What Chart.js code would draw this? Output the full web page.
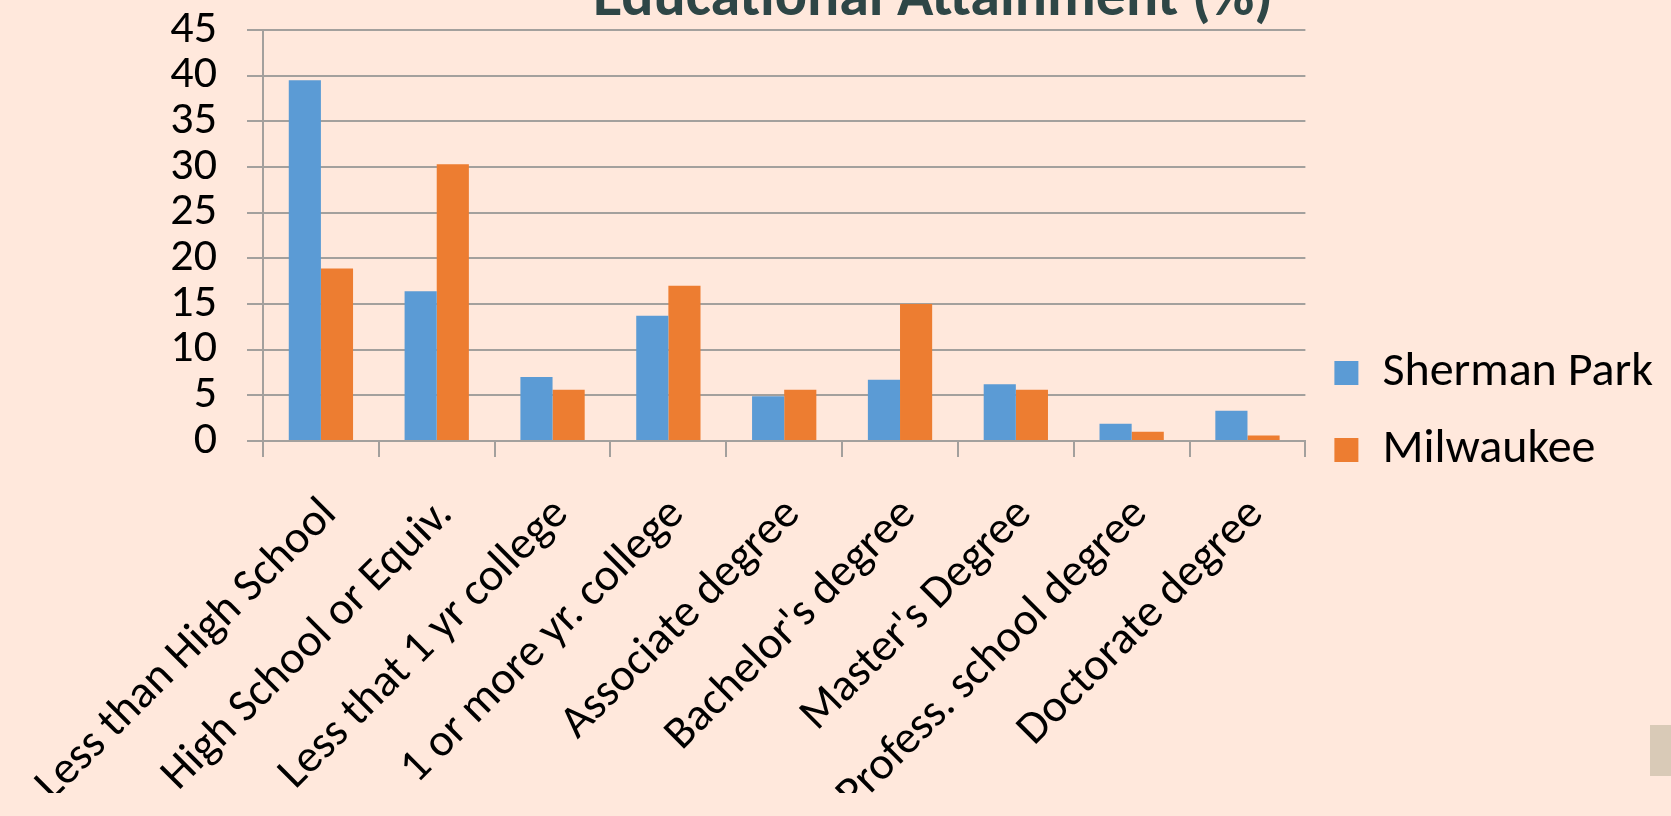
<!DOCTYPE html>
<html>
<head>
<meta charset="utf-8">
<script src="https://cdn.jsdelivr.net/npm/chart.js@4"></script>
<style>
  html, body { margin: 0; padding: 0; background: #FFE8DC; overflow: hidden; }
  body { width: 1671px; height: 816px; position: relative; }
  #title {
    position: absolute; left: 933px; top: -35px; transform: translateX(-50%);
    font: bold 60px Carlito, Lato, sans-serif; line-height: 60px; color: #2E4646;
    white-space: nowrap;
  }
  #chart { position: absolute; left: 0; top: 0; }
  #corner { position: absolute; left: 1650px; top: 725px; width: 21px; height: 51px; background: #D9CAB7; }
</style>
</head>
<body>
<div id="title">Educational Attainment (%)</div>
<canvas id="chart" width="1671" height="816"></canvas>
<div id="corner"></div>
<script>
const categories = [
  'Less than High School', 'High School or Equiv.', 'Less that 1 yr college',
  '1 or more yr. college', 'Associate degree', "Bachelor's degree",
  "Master's Degree", 'Profess. school degree', 'Doctorate degree'
];
const shermanPark = [39.5, 16.4, 7.0, 13.7, 4.9, 6.7, 6.2, 1.9, 3.3];
const milwaukee = [18.9, 30.3, 5.6, 17.0, 5.6, 15.0, 5.6, 1.0, 0.6];
const yTicks = [0, 5, 10, 15, 20, 25, 30, 35, 40, 45];

const font = 'Carlito, Lato, sans-serif';
const gridColor = '#A3A09D';

new Chart(document.getElementById('chart'), {
  type: 'bar',
  data: {
    labels: categories,
    datasets: [
      { label: 'Sherman Park', data: shermanPark, backgroundColor: '#5B9BD5' },
      { label: 'Milwaukee', data: milwaukee, backgroundColor: '#ED7D31' }
    ]
  },
  options: {
    responsive: false,
    animation: false,
    devicePixelRatio: 1,
    categoryPercentage: 0.555,
    barPercentage: 1,
    layout: { padding: { top: 30, right: 8, left: 0, bottom: 23 } },
    plugins: {
      legend: {
        position: 'right',
        labels: {
          boxWidth: 24, boxHeight: 24, padding: 29,
          color: '#000', font: { family: font, size: 48 }
        }
      },
      tooltip: { enabled: false }
    },
    scales: {
      x: {
        // rotated labels may run off the canvas, as in the slide
        afterFit: s => { s.height = 352; s.paddingLeft = 0; s.paddingRight = 0; },
        grid: { drawOnChartArea: false, color: gridColor, lineWidth: 2, tickLength: 16 },
        border: { color: gridColor, width: 2 },
        ticks: {
          autoSkip: false, minRotation: 45, maxRotation: 45, padding: 31, labelOffset: 9,
          color: '#000', font: { family: font, size: 46 }
        }
      },
      y: {
        min: 0, max: 45,
        afterFit: s => { s.width = 263; s.paddingTop = 0; s.paddingBottom = 0; },
        afterBuildTicks: s => { s.ticks = yTicks.map(v => ({ value: v })); },
        grid: { color: gridColor, lineWidth: 2, tickLength: 16 },
        border: { color: gridColor, width: 2 },
        ticks: { autoSkip: false, padding: 30, color: '#000', font: { family: font, size: 46 } }
      }
    }
  }
});
</script>
</body>
</html>
